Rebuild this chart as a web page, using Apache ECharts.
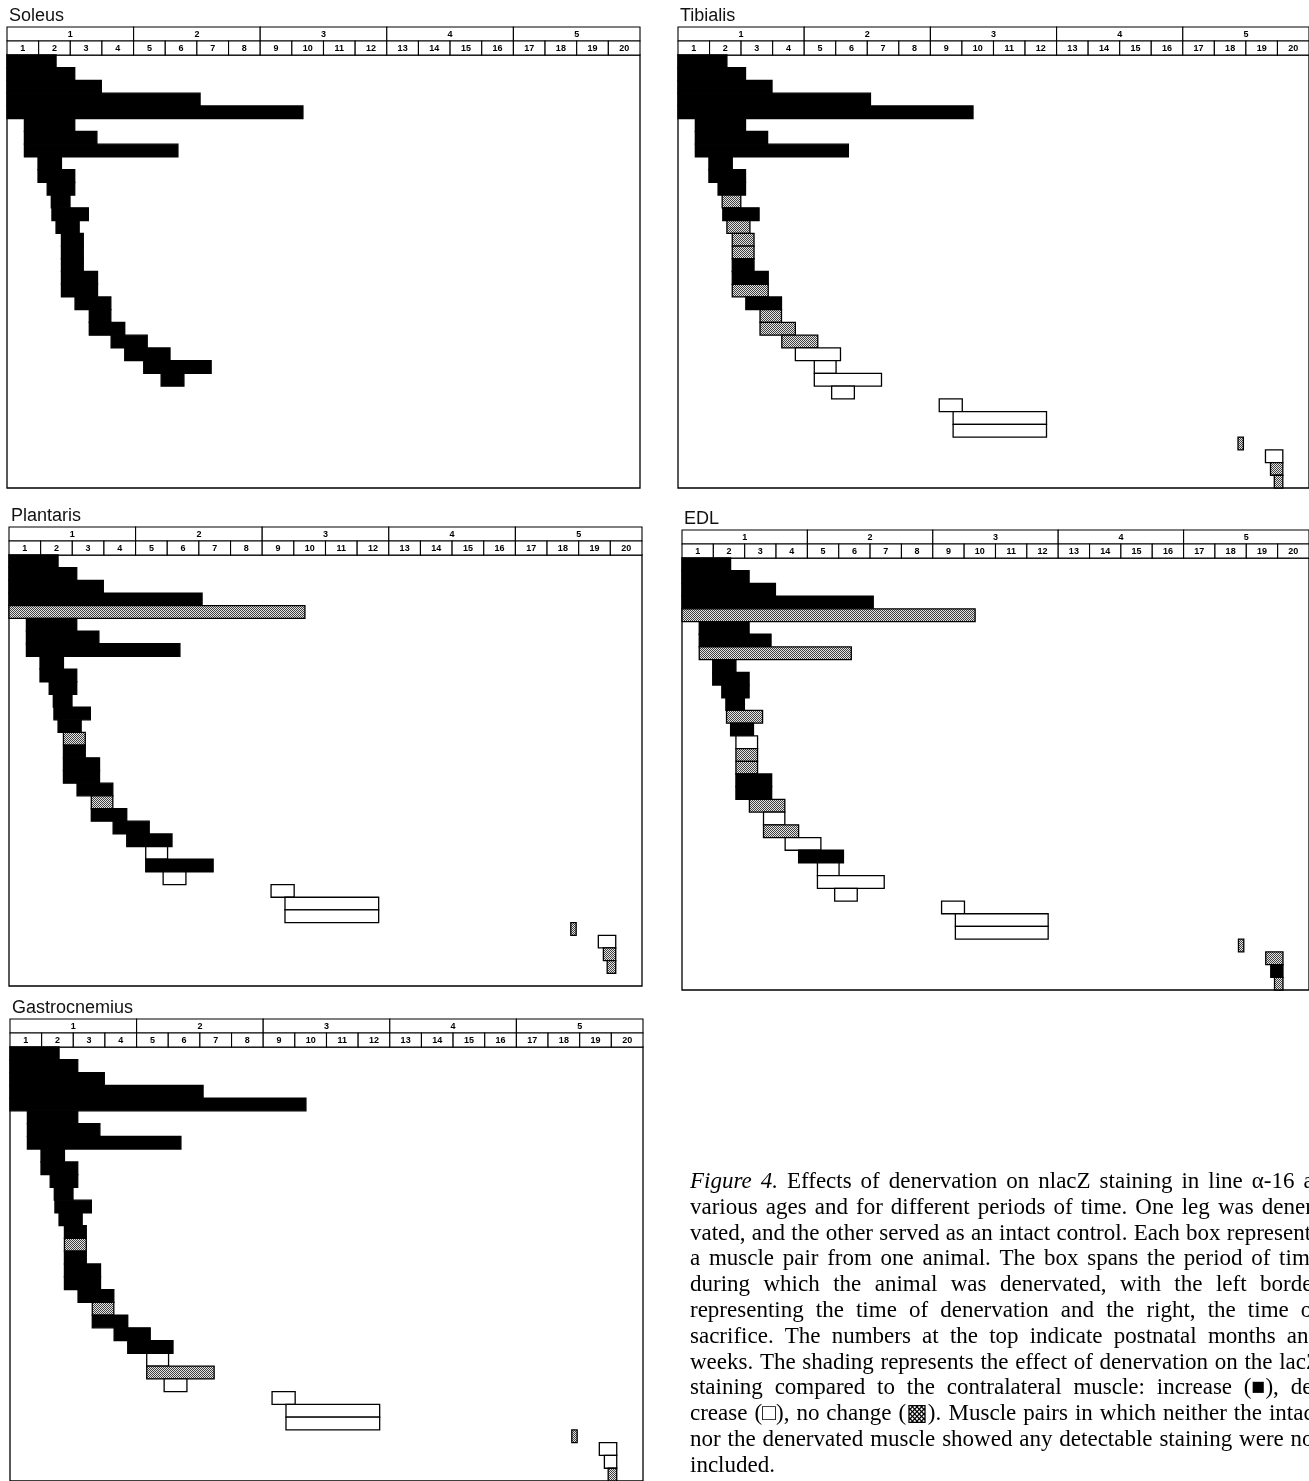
<!DOCTYPE html>
<html><head><meta charset="utf-8">
<script src="https://cdn.jsdelivr.net/npm/echarts@6/dist/echarts.min.js"></script>
<style>html,body{margin:0;padding:0;background:#fff;overflow:hidden}#c{width:1309px;height:1481px}</style>
</head><body><div id="c"></div>
<script>
// ---------------- DATA ----------------
const monthLabels = ['1','2','3','4','5'];
const weekLabels = ['1','2','3','4','5','6','7','8','9','10','11','12','13','14','15','16','17','18','19','20'];
// one entry per animal (weeks after birth): time of denervation and time of sacrifice
const denervationWeek = [0,0,0,0,0,0.55,0.55,0.55,0.98,0.98,1.27,1.40,1.42,1.55,1.72,1.72,1.72,1.72,1.72,2.15,2.60,2.60,3.29,3.72,4.32,4.32,4.87,8.28,8.72,8.72,17.75,18.62,18.78,18.90];
const sacrificeWeek   = [1.55,2.14,2.98,6.10,9.35,2.14,2.84,5.40,1.72,2.14,2.14,1.99,2.57,2.28,2.41,2.41,2.41,2.86,2.86,3.28,3.28,3.72,4.43,5.15,5.01,6.45,5.59,9.01,11.68,11.68,17.92,19.17,19.17,19.17];
// effect of denervation: I = increase, D = decrease, N = no change, '-' = not included
const soleusEffect =   ['I','I','I','I','I','I','I','I','I','I','I','I','I','I','I','I','I','I','I','I','I','I','I','I','-','I','I','-','-','-','-','-','-','-'];
const tibialisEffect = ['I','I','I','I','I','I','I','I','I','I','I','N','I','N','N','N','I','I','N','I','N','N','N','D','D','D','D','D','D','D','N','D','N','N'];
const plantarisEffect =['I','I','I','I','N','I','I','I','I','I','I','I','I','I','N','I','-','I','I','I','N','I','I','I','D','I','D','D','D','D','N','D','N','N'];
const edlEffect =      ['I','I','I','I','N','I','I','N','I','I','I','I','N','I','D','N','N','I','I','N','D','N','D','I','D','D','D','D','D','D','N','N','I','N'];
const gastroEffect =   ['I','I','I','I','I','I','I','I','I','I','I','I','I','I','I','N','I','I','I','I','N','I','I','I','D','N','D','D','D','D','N','D','D','N'];
const muscleNames = ['Soleus','Tibialis','Plantaris','EDL','Gastrocnemius'];
const captionLines = [
 'Figure 4. Effects of denervation on nlacZ staining in line \u03b1-16 at',
 'various ages and for different periods of time. One leg was dener-',
 'vated, and the other served as an intact control. Each box represents',
 'a muscle pair from one animal. The box spans the period of time',
 'during which the animal was denervated, with the left border',
 'representing the time of denervation and the right, the time of',
 'sacrifice. The numbers at the top indicate postnatal months and',
 'weeks. The shading represents the effect of denervation on the lacZ',
 'staining compared to the contralateral muscle: increase (\u25a0), de-',
 'crease (\u25a1), no change (\u25a9). Muscle pairs in which neither the intact',
 'nor the denervated muscle showed any detectable staining were not',
 'included.'
];

// ---------------- LAYOUT ----------------
const effects = [soleusEffect, tibialisEffect, plantarisEffect, edlEffect, gastroEffect];
const panelPos = [
  {x:7,   top:27,   h:433},
  {x:678, top:27,   h:433},
  {x:9,   top:527,  h:431},
  {x:682, top:530,  h:432},
  {x:10,  top:1019, h:434}
];
const PW = 633, HH = 28, NROWS = 34;

function makeStipple(){
  const c = document.createElement('canvas'); c.width = 2; c.height = 2;
  const g = c.getContext('2d');
  g.fillStyle = '#e4e4e4'; g.fillRect(0,0,2,2);
  g.fillStyle = '#404040'; g.fillRect(0,0,1,1); g.fillRect(1,1,1,1);
  return c;
}
const STIP = {image: makeStipple(), repeat: 'repeat'};
const codeOf = {I:0, D:1, N:2};

const chart = echarts.init(document.getElementById('c'));
const grid = [], xAxis = [], yAxis = [], series = [], graphic = [];

const headerCells = [];
monthLabels.forEach((m,i) => headerCells.push([4*i, 4*i+4, 0]));
weekLabels.forEach((w,i) => headerCells.push([i, i+1, 1]));
const headerText = monthLabels.concat(weekLabels);

panelPos.forEach((p, k) => {
  const gh = 2*k, gp = 2*k+1;
  grid.push({left:p.x, top:p.top, width:PW, height:HH, show:false});
  grid.push({left:p.x, top:p.top+HH, width:PW, height:p.h, show:true, borderColor:'#000', borderWidth:1.3, backgroundColor:'rgba(0,0,0,0)'});
  xAxis.push({gridIndex:gh, type:'value', min:0, max:20, show:false});
  xAxis.push({gridIndex:gp, type:'value', min:0, max:20, show:false});
  yAxis.push({gridIndex:gh, type:'value', min:0, max:2, inverse:true, show:false});
  yAxis.push({gridIndex:gp, type:'value', min:0, max:NROWS, inverse:true, show:false});

  series.push({
    type:'custom', xAxisIndex:gh, yAxisIndex:gh, data:headerCells, silent:true,
    renderItem:(params, api) => {
      const a = api.coord([api.value(0), api.value(2)]);
      const b = api.coord([api.value(1), api.value(2)+1]);
      const x = Math.min(a[0],b[0]), y = Math.min(a[1],b[1]);
      const w = Math.abs(b[0]-a[0]), h = Math.abs(b[1]-a[1]);
      return {type:'group', children:[
        {type:'rect', shape:{x, y, width:w, height:h}, style:{fill:'#fff', stroke:'#000', lineWidth:1.1}},
        {type:'text', style:{text:headerText[params.dataIndex], x:x+w/2, y:y+h/2+0.5, align:'center', verticalAlign:'middle',
          fontSize:9, fontWeight:'bold', fontFamily:'"Liberation Sans", Arial', fill:'#000'}}
      ]};
    }
  });

  const eff = effects[k];
  const rows = [];
  let r = 0;
  eff.forEach((e, i) => {
    if (e === '-') return;
    rows.push([denervationWeek[i], sacrificeWeek[i], r, codeOf[e]]);
    r++;
  });
  series.push({
    type:'custom', xAxisIndex:gp, yAxisIndex:gp, data:rows, silent:true, clip:false,
    renderItem:(params, api) => {
      const a = api.coord([api.value(0), api.value(2)]);
      const b = api.coord([api.value(1), api.value(2)+1]);
      const c = api.value(3);
      return {type:'rect', shape:{x:Math.min(a[0],b[0]), y:Math.min(a[1],b[1]), width:Math.abs(b[0]-a[0]), height:Math.abs(b[1]-a[1])},
        style:{fill: c===0 ? '#000' : (c===1 ? '#fff' : STIP), stroke:'#000', lineWidth:1.3}};
    }
  });

  graphic.push({type:'text', left:p.x+2, top:p.top-20, silent:true,
    style:{text:muscleNames[k], fontSize:18, fontFamily:'"Liberation Sans", Arial', fill:'#111'}});
});

// caption, justified
const CAP_X0 = 690, CAP_X1 = 1320, CAP_Y0 = 1182, CAP_LH = 25.8, CAP_FS = 23;
const mctx = document.createElement('canvas').getContext('2d');
captionLines.forEach((line, i) => {
  const words = line.split(' ');
  const fonts = words.map((w, j) => (i===0 && j<2) ? 'italic' : 'normal');
  const widths = words.map((w, j) => { mctx.font = fonts[j] + ' ' + CAP_FS + 'px "Liberation Serif"'; return mctx.measureText(w).width; });
  const total = widths.reduce((s,v)=>s+v,0);
  mctx.font = 'normal ' + CAP_FS + 'px "Liberation Serif"';
  let gap = mctx.measureText(' ').width;
  if (i < captionLines.length-1) gap = (CAP_X1 - CAP_X0 - total) / (words.length-1);
  let x = CAP_X0;
  words.forEach((w, j) => {
    graphic.push({type:'text', x:x, y:CAP_Y0 + i*CAP_LH, silent:true,
      style:{text:w, fontSize:CAP_FS, fontStyle:fonts[j], fontFamily:'"Liberation Serif", "DejaVu Serif"', fill:'#000', verticalAlign:'middle', align:'left'}});
    x += widths[j] + gap;
  });
});

chart.setOption({animation:false, backgroundColor:'#fff', grid, xAxis, yAxis, series, graphic});
</script></body></html>
